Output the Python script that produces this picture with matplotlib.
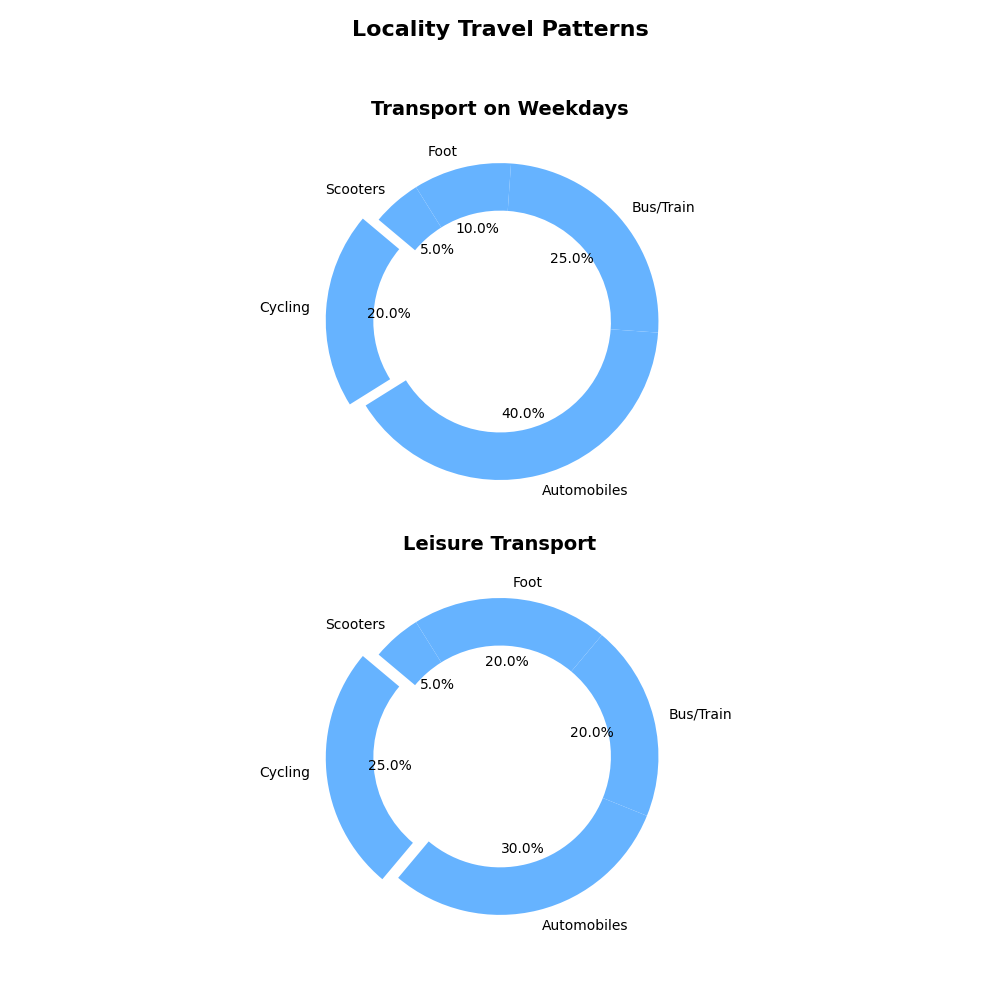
import matplotlib.pyplot as plt

# Travel mode shares (%)
labels = ["Cycling", "Automobiles", "Bus/Train", "Foot", "Scooters"]
weekday_share = [20, 40, 25, 10, 5]
leisure_share = [25, 30, 20, 20, 5]
explode = [0.1, 0, 0, 0, 0]

colors = ["#66b3ff"] * len(labels)

fig, axes = plt.subplots(2, 1, figsize=(10, 10))
fig.suptitle("Locality Travel Patterns", fontsize=16, fontweight="bold")

for ax, share, title in zip(axes,
                            [weekday_share, leisure_share],
                            ["Transport on Weekdays", "Leisure Transport"]):
    ax.pie(share, labels=labels, colors=colors, explode=explode,
           autopct="%1.1f%%", startangle=140,
           wedgeprops=dict(width=0.3))
    ax.set_title(title, fontsize=14, fontweight="bold")

plt.subplots_adjust(left=0.1, right=0.9, top=0.8765, bottom=0.0455, hspace=0.098)
plt.savefig("out.png", dpi=100)
